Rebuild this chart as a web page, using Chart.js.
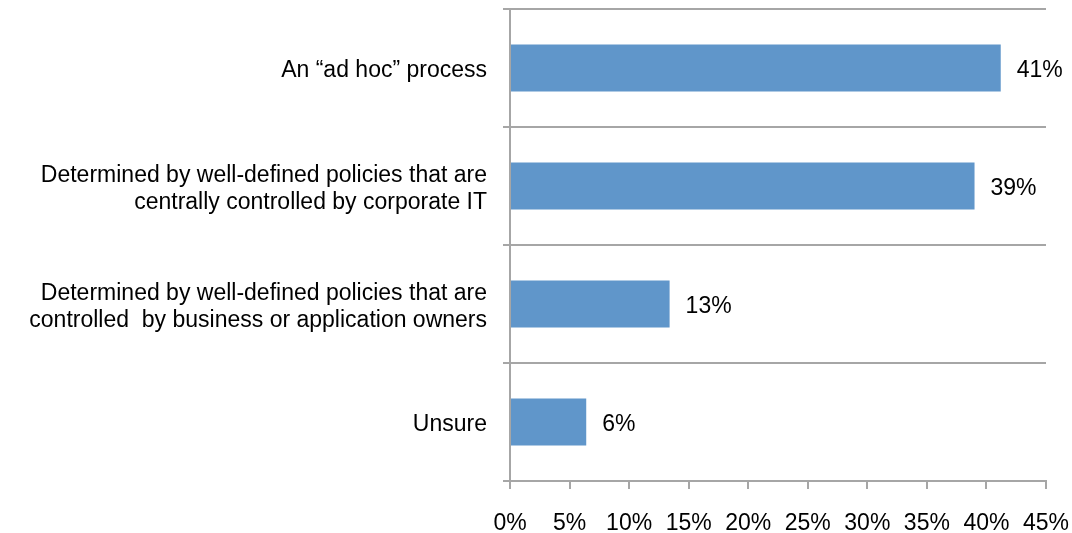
<!DOCTYPE html>
<html>
<head>
<meta charset="utf-8">
<script src="https://cdn.jsdelivr.net/npm/chart.js@4.4.0/dist/chart.umd.min.js"></script>
<style>
  html, body { margin: 0; padding: 0; background: #fff; }
  #wrap { width: 1072px; height: 533px; }
</style>
</head>
<body>
<div id="wrap"><canvas id="myChart" width="1072" height="533"></canvas></div>
<script>
// survey answers, top to bottom
var categories = [
    ['An \u201cad hoc\u201d process'],
    ['Determined by well-defined policies that are', 'centrally controlled by corporate IT'],
    ['Determined by well-defined policies that are', 'controlled  by business or application owners'],
    ['Unsure']
];
var shares = [41.2, 39.0, 13.4, 6.4];
var shareLabels = ['41%', '39%', '13%', '6%'];
var xTicks = [0, 5, 10, 15, 20, 25, 30, 35, 40, 45];

var gray = '#a6a6a6';
var fontFamily = '"Liberation Sans", Arial, sans-serif';

// draw the % text right of each bar
var valueLabels = {
    id: 'valueLabels',
    afterDatasetsDraw: function (chart) {
        var ctx = chart.ctx;
        var meta = chart.getDatasetMeta(0);
        ctx.save();
        ctx.fillStyle = '#000';
        ctx.font = '23px ' + fontFamily;
        ctx.textAlign = 'left';
        ctx.textBaseline = 'middle';
        meta.data.forEach(function (bar, i) {
            ctx.fillText(shareLabels[i], bar.x + 16, bar.y + 3);
        });
        ctx.restore();
    }
};

var ctx = document.getElementById('myChart').getContext('2d');
var chart = new Chart(ctx, {
    type: 'bar',
    data: {
        labels: categories,
        datasets: [{
            data: shares,
            backgroundColor: '#6096ca',
            borderWidth: 0,
            barPercentage: 1,
            categoryPercentage: 0.4
        }]
    },
    options: {
        indexAxis: 'y',
        responsive: false,
        animation: false,
        layout: { padding: { top: 9, right: 26, bottom: 0, left: 0 } },
        plugins: {
            legend: { display: false },
            tooltip: { enabled: false }
        },
        scales: {
            x: {
                min: 0,
                max: 45,
                afterBuildTicks: function (scale) {
                    scale.ticks = xTicks.map(function (v) { return { value: v }; });
                },
                afterFit: function (scale) {
                    scale.height = 52;
                    scale.paddingRight = 0;
                    scale.paddingLeft = 0;
                },
                grid: {
                    drawOnChartArea: false,
                    drawTicks: true,
                    tickLength: 8,
                    color: gray,
                    lineWidth: 2
                },
                border: { display: true, color: gray, width: 2 },
                ticks: {
                    color: '#000',
                    padding: 21,
                    maxRotation: 0,
                    autoSkip: false,
                    font: { size: 23, family: fontFamily },
                    callback: function (v) { return v + '%'; }
                }
            },
            y: {
                afterFit: function (scale) {
                    scale.width = 510;
                    scale.paddingTop = 0;
                    scale.paddingBottom = 0;
                },
                grid: {
                    offset: true,
                    drawTicks: true,
                    tickLength: 7,
                    color: gray,
                    lineWidth: 2
                },
                border: { display: true, color: gray, width: 2 },
                ticks: {
                    color: '#000',
                    padding: 16,
                    labelOffset: 3,
                    font: { size: 23, family: fontFamily, lineHeight: 1.17 }
                }
            }
        }
    },
    plugins: [valueLabels]
});
</script>
</body>
</html>
